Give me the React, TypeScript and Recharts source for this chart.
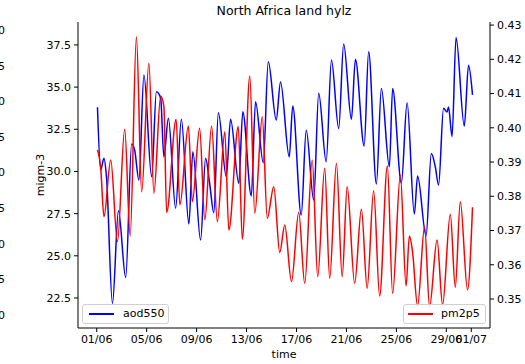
import React from 'react';
import { LineChart, Line, XAxis, YAxis } from 'recharts';

const redT = [0.06, 0.32, 0.58, 1.12, 1.66, 2.24, 2.68, 3.18, 3.6, 4.18, 4.58, 5.12, 5.38, 5.6, 6.36, 6.66, 7.34, 7.66, 8.24, 8.66, 9.2, 9.66, 10.26, 10.58, 11.34, 11.66, 12.26, 12.66, 13.26, 13.66, 14.18, 14.66, 15.06, 15.6, 16.18, 16.66, 17.26, 17.7, 18.26, 18.66, 19.2, 19.66, 20.06, 20.66, 21.2, 21.66, 22.18, 22.66, 23.28, 23.7, 24.32, 24.78, 25.04, 25.28, 25.7, 26.26, 26.66, 27.26, 27.7, 28.32, 28.72, 29.12, 29.7, 30.1];
const redV = [31.28, 30.19, 27.32, 30.68, 25.84, 32.5, 26.18, 37.99, 28.8, 36.42, 28.71, 34.48, 33.84, 27.56, 33.1, 28.02, 32.7, 28.21, 32.56, 27.13, 32.7, 27.03, 32.36, 26.53, 32.66, 25.98, 35.66, 27.52, 33.25, 27.23, 29.1, 25.19, 26.83, 23.47, 27.56, 23.37, 30.68, 23.76, 30.19, 23.67, 30.49, 23.76, 29.1, 23.37, 27.76, 23.08, 28.86, 22.62, 30.33, 22.78, 29.79, 23.21, 26.18, 25.35, 22.03, 26.73, 21.99, 25.94, 22.09, 27.46, 23.14, 28.21, 22.98, 27.88];

const blueT = [0.06, 0.32, 0.58, 0.78, 1.26, 1.74, 2.32, 2.8, 3.04, 3.38, 3.78, 4.4, 4.78, 5.12, 5.38, 5.74, 6.32, 6.78, 7.38, 7.7, 8.32, 8.72, 9.04, 9.38, 9.74, 10.38, 10.72, 11.38, 11.7, 12.38, 12.72, 13.34, 13.74, 14.38, 14.72, 15.42, 15.7, 16.38, 16.78, 17.38, 17.78, 18.38, 18.8, 19.38, 19.78, 20.4, 20.72, 21.42, 21.78, 22.4, 22.8, 23.44, 23.7, 24.4, 24.86, 25.44, 25.7, 26.38, 26.8, 27.12, 27.38, 27.78, 28.06, 28.18, 28.46, 28.78, 29.44, 29.78, 30.1];
const blueV = [0.406, 0.3877, 0.3911, 0.3857, 0.3487, 0.3758, 0.3563, 0.3953, 0.3935, 0.3847, 0.4154, 0.3857, 0.4105, 0.4087, 0.3915, 0.4028, 0.3765, 0.4025, 0.3719, 0.393, 0.3672, 0.3911, 0.3839, 0.3752, 0.4044, 0.3857, 0.4025, 0.3838, 0.4047, 0.3801, 0.4076, 0.3898, 0.4193, 0.4023, 0.4134, 0.3915, 0.4064, 0.3745, 0.3993, 0.3789, 0.4101, 0.3901, 0.4198, 0.3998, 0.4245, 0.4025, 0.42, 0.3947, 0.4222, 0.3836, 0.4115, 0.3886, 0.4115, 0.3838, 0.4073, 0.3748, 0.3859, 0.3684, 0.3925, 0.3886, 0.3833, 0.4057, 0.4046, 0.4061, 0.3974, 0.4264, 0.4005, 0.4183, 0.4096];

const xTicks = [0, 4, 8, 12, 16, 20, 24, 28, 30];
const xTickLabels = ['01/06', '05/06', '09/06', '13/06', '17/06', '21/06', '25/06', '29/06', '01/07'];
const leftTicks = [22.5, 25, 27.5, 30, 32.5, 35, 37.5];
const rightTicks = [0.35, 0.36, 0.37, 0.38, 0.39, 0.4, 0.41, 0.42, 0.43];
const edgeLabels = ['0', '5', '0', '5', '0', '5', '0', '5', '0'];
const edgeLabelY = [31, 67, 102, 138, 173, 209, 245, 280, 316];

const redData = redT.map((t, i) => ({ t, v: redV[i] }));
const blueData = blueT.map((t, i) => ({ t, v: blueV[i] }));

const FONT = '"DejaVu Sans", sans-serif';
const tickStyle = { fontSize: 11, fill: '#000', fontFamily: FONT };

export default function App() {
  return (
    <div style={{ position: 'absolute', left: 0, top: 0, width: 525, height: 364, fontFamily: FONT, overflow: 'hidden', background: '#fff' }}>
      <LineChart width={525} height={364} margin={{ top: 22, right: 0, bottom: 0, left: 0 }}>
        <XAxis
          xAxisId="bottom"
          dataKey="t"
          type="number"
          domain={[-1.5, 31.5]}
          ticks={xTicks}
          interval={0}
          allowDataOverflow
          tickFormatter={(v: number) => xTickLabels[xTicks.indexOf(v)]}
          height={36}
          stroke="#000"
          tickSize={4}
          tickMargin={3}
          tick={tickStyle}
        />
        <XAxis xAxisId="top" orientation="top" dataKey="t" type="number" domain={[-1.5, 31.5]} tick={false} tickLine={false} height={0} stroke="#000" />
        <YAxis
          yAxisId="left"
          orientation="left"
          width={78}
          domain={[20.72, 38.86]}
          ticks={leftTicks}
          interval={0}
          allowDataOverflow
          tickFormatter={(v: number) => v.toFixed(1)}
          stroke="#000"
          tickSize={4}
          tickMargin={3}
          tick={tickStyle}
        />
        <YAxis
          yAxisId="right"
          orientation="right"
          width={35}
          domain={[0.34153, 0.4309]}
          ticks={rightTicks}
          interval={0}
          allowDataOverflow
          tickFormatter={(v: number) => v.toFixed(2)}
          stroke="#000"
          tickSize={4}
          tickMargin={3}
          tick={tickStyle}
        />
        <Line data={blueData} xAxisId="bottom" yAxisId="right" dataKey="v" type="monotone" stroke="#0000ff" strokeWidth={1.5} dot={false} isAnimationActive={false} />
        <Line data={redData} xAxisId="bottom" yAxisId="left" dataKey="v" type="monotone" stroke="#ff0000" strokeWidth={1.5} dot={false} isAnimationActive={false} />
      </LineChart>

      <div style={{ position: 'absolute', left: 78, width: 412, top: 3, textAlign: 'center', fontSize: 12.5, color: '#000' }}>North Africa land hylz</div>
      <div style={{ position: 'absolute', left: 78, width: 412, top: 348, textAlign: 'center', fontSize: 11, color: '#000' }}>time</div>
      <div style={{ position: 'absolute', left: 40, top: 175, width: 0, height: 0 }}>
        <div style={{ position: 'absolute', transform: 'translate(-50%, -50%) rotate(-90deg)', fontSize: 11, color: '#000', whiteSpace: 'nowrap' }}>migm-3</div>
      </div>

      {edgeLabels.map((s, i) => (
        <div key={i} style={{ position: 'absolute', left: -2, top: edgeLabelY[i] - 7, fontSize: 11, color: '#000', lineHeight: '14px' }}>{s}</div>
      ))}

      <div style={{ position: 'absolute', left: 82, top: 304, width: 87, height: 20, boxSizing: 'border-box', border: '1px solid #d0d0d0', borderRadius: 3, background: 'rgba(255,255,255,0.8)' }}>
        <div style={{ position: 'absolute', left: 6, top: 8, width: 25, height: 2, background: '#0000ff' }} />
        <div style={{ position: 'absolute', left: 40, top: 2, fontSize: 11, color: '#000', lineHeight: '14px' }}>aod550</div>
      </div>
      <div style={{ position: 'absolute', left: 403, top: 304, width: 83, height: 20, boxSizing: 'border-box', border: '1px solid #d0d0d0', borderRadius: 3, background: 'rgba(255,255,255,0.8)' }}>
        <div style={{ position: 'absolute', left: 4, top: 8, width: 25, height: 2, background: '#ff0000' }} />
        <div style={{ position: 'absolute', left: 37, top: 2, fontSize: 11, color: '#000', lineHeight: '14px' }}>pm2p5</div>
      </div>
    </div>
  );
}
